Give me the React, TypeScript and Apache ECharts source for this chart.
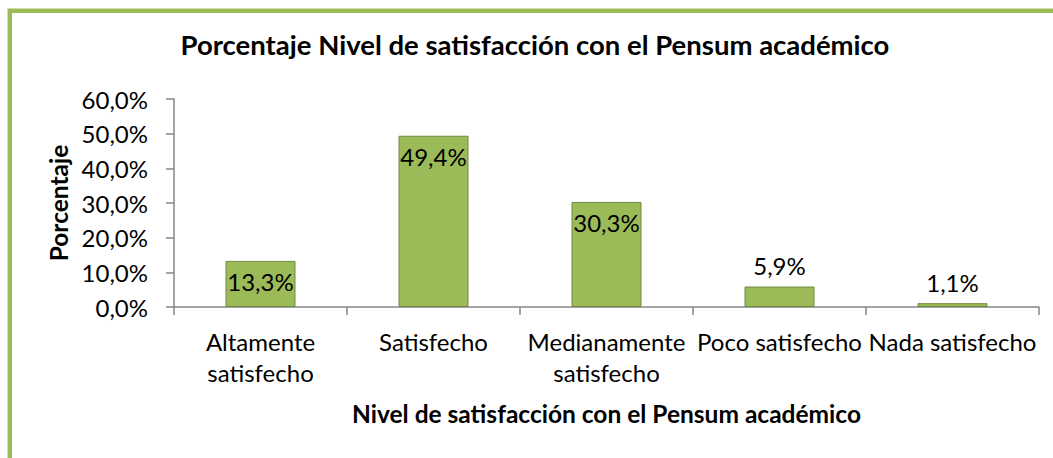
import React, { useEffect, useRef } from "react";
import * as echarts from "echarts";

const categories = [
  "Altamente satisfecho",
  "Satisfecho",
  "Medianamente satisfecho",
  "Poco satisfecho",
  "Nada satisfecho",
];
const values = [13.3, 49.4, 30.3, 5.9, 1.1];
const labelPositions = ["insideTop", "insideTop", "insideTop", "top", "top"];
const categoryLabels: Record<string, string> = {
  "Altamente satisfecho": "Altamente\nsatisfecho",
  "Medianamente satisfecho": "Medianamente\nsatisfecho",
};
const yMin = 0;
const yMax = 60;
const yInterval = 10;

const FONT = "Lato";
const fmt = (v: number) => v.toFixed(1).replace(".", ",") + "%";

export default function App() {
  const ref = useRef<HTMLDivElement>(null);
  useEffect(() => {
    document.body.style.margin = "0";
    const chart = echarts.init(ref.current!, null, { renderer: "svg" });
    chart.setOption({
      animation: false,
      backgroundColor: "#ffffff",
      textStyle: { fontFamily: FONT },
      title: {
        text: "Porcentaje Nivel de satisfacción con el Pensum académico",
        left: 530,
        top: 25,
        textAlign: "center",
        textStyle: { fontFamily: FONT, fontSize: 27.5, fontWeight: "bold", color: "#000" },
      },
      graphic: [
        {
          type: "rect",
          shape: { x: 9.8, y: 10.7, width: 1200, height: 600 },
          style: { fill: "none", stroke: "#9BBB59", lineWidth: 4.5 },
          silent: true,
          z: 100,
        },
      ],
      grid: { left: 174, right: 14, top: 99, bottom: 151, containLabel: false },
      xAxis: {
        type: "category",
        data: categories,
        name: "Nivel de satisfacción con el Pensum académico",
        nameLocation: "middle",
        nameGap: 94,
        nameTextStyle: { fontFamily: FONT, fontSize: 24.5, fontWeight: "bold", color: "#000" },
        axisLine: { lineStyle: { color: "#868686", width: 1.5 } },
        axisTick: { show: true, length: 8, lineStyle: { color: "#868686", width: 1.5 } },
        axisLabel: {
          interval: 0,
          margin: 19,
          fontFamily: FONT,
          fontSize: 24,
          lineHeight: 31,
          color: "#000",
          formatter: (v: string) => categoryLabels[v] ?? v,
        },
      },
      yAxis: {
        type: "value",
        min: yMin,
        max: yMax,
        interval: yInterval,
        name: "Porcentaje",
        nameLocation: "middle",
        nameGap: 100,
        nameRotate: 90,
        nameTextStyle: { fontFamily: FONT, fontSize: 24.5, fontWeight: "bold", color: "#000" },
        axisLine: { show: true, lineStyle: { color: "#868686", width: 1.5 } },
        axisTick: { show: true, length: 8, lineStyle: { color: "#868686", width: 1.5 } },
        splitLine: { show: false },
        axisLabel: {
          margin: 26,
          fontFamily: FONT,
          fontSize: 24,
          color: "#000",
          formatter: (v: number) => fmt(v),
        },
      },
      series: [
        {
          type: "bar",
          barWidth: 70,
          data: values.map((v, i) => ({
            value: v,
            label: { position: labelPositions[i] },
          })),
          itemStyle: { color: "#9BBB59", borderColor: "#71893F", borderWidth: 1 },
          label: {
            show: true,
            distance: 9,
            fontFamily: FONT,
            fontSize: 24,
            color: "#000",
            formatter: (p: any) => fmt(p.value),
          },
        },
      ],
    });
    return () => chart.dispose();
  }, []);
  return <div ref={ref} style={{ width: 1053, height: 458 }} />;
}
